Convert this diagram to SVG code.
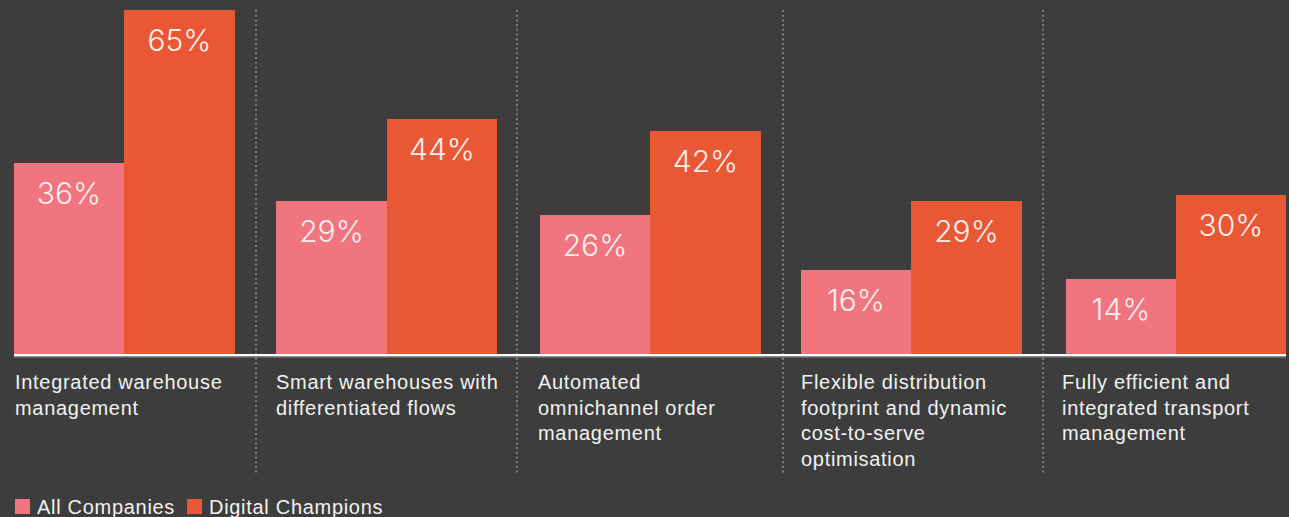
<svg xmlns="http://www.w3.org/2000/svg" width="1289" height="517" viewBox="0 0 1289 517">
<style>
.bg{fill:#3d3d3d}
.pk{fill:#f1757f}
.or{fill:#e95834}
.sep{stroke:#7d7d7d;stroke-width:2;stroke-dasharray:2 2.7;fill:none}
.val{font-family:Inter,"Liberation Sans",Arial,sans-serif;font-weight:300;font-size:30px;fill:#fbeeee;text-anchor:middle}
.lab{font-family:"Liberation Sans",Arial,sans-serif;font-size:20px;fill:#f2f2f2;letter-spacing:0.7px}
.leg{font-family:"Liberation Sans",Arial,sans-serif;font-size:20px;fill:#f2f2f2;letter-spacing:0.7px}
</style>
<rect class="bg" x="0" y="0" width="1289" height="517"/>
<g id="separators">
<line class="sep" x1="256" y1="10" x2="256" y2="473"/>
<line class="sep" x1="517" y1="10" x2="517" y2="473"/>
<line class="sep" x1="783" y1="10" x2="783" y2="473"/>
<line class="sep" x1="1043" y1="10" x2="1043" y2="473"/>
</g>
<g id="group1">
<rect class="pk" x="14" y="163" width="110" height="192"/>
<rect class="or" x="124" y="10" width="111" height="345"/>
<text class="val" x="69" y="204">36%</text>
<text class="val" x="179.5" y="51">65%</text>
<text class="lab" x="15" y="389">Integrated warehouse</text>
<text class="lab" x="15" y="414.5">management</text>
</g>
<g id="group2">
<rect class="pk" x="276" y="201" width="111" height="154"/>
<rect class="or" x="387" y="119" width="110" height="236"/>
<text class="val" x="331.5" y="242">29%</text>
<text class="val" x="442" y="160">44%</text>
<text class="lab" x="276" y="389">Smart warehouses with</text>
<text class="lab" x="276" y="414.5">differentiated flows</text>
</g>
<g id="group3">
<rect class="pk" x="540" y="215" width="110" height="140"/>
<rect class="or" x="650" y="131" width="111" height="224"/>
<text class="val" x="595" y="256">26%</text>
<text class="val" x="705.5" y="172">42%</text>
<text class="lab" x="538" y="389">Automated</text>
<text class="lab" x="538" y="414.5">omnichannel order</text>
<text class="lab" x="538" y="440">management</text>
</g>
<g id="group4">
<rect class="pk" x="801" y="270" width="110" height="85"/>
<rect class="or" x="911" y="201" width="111" height="154"/>
<text class="val" x="856" y="311">16%</text>
<text class="val" x="966.5" y="242">29%</text>
<text class="lab" x="801" y="389">Flexible distribution</text>
<text class="lab" x="801" y="414.5">footprint and dynamic</text>
<text class="lab" x="801" y="440">cost-to-serve</text>
<text class="lab" x="801" y="465.5">optimisation</text>
</g>
<g id="group5">
<rect class="pk" x="1066" y="279" width="110" height="76"/>
<rect class="or" x="1176" y="195" width="110" height="160"/>
<text class="val" x="1121" y="320">14%</text>
<text class="val" x="1231" y="236">30%</text>
<text class="lab" x="1062" y="389">Fully efficient and</text>
<text class="lab" x="1062" y="414.5">integrated transport</text>
<text class="lab" x="1062" y="440">management</text>
</g>
<g id="axis">
<rect x="14" y="354" width="1272" height="2" fill="#ffffff"/>
<rect x="14" y="356" width="1272" height="1.5" fill="#8a8a8a"/>
</g>
<g id="legend">
<rect class="pk" x="15" y="499" width="15" height="15"/>
<text class="leg" x="37" y="514">All Companies</text>
<rect class="or" x="187" y="499" width="15" height="15"/>
<text class="leg" x="209" y="514">Digital Champions</text>
</g>
</svg>
